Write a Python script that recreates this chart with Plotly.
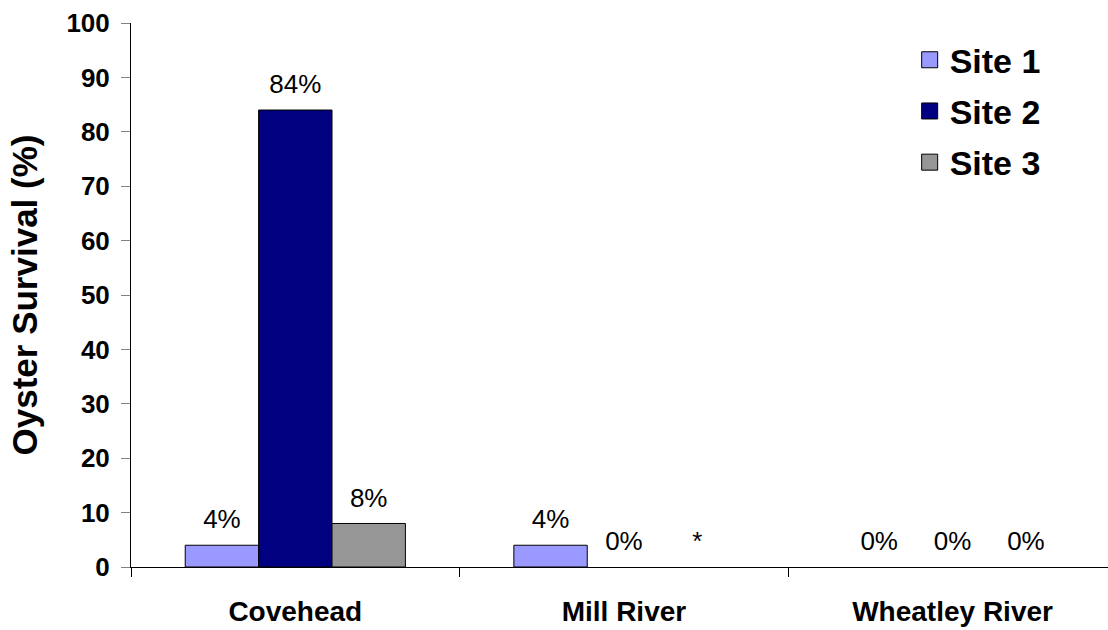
import plotly.graph_objects as go

# Oyster survival by river and site
rivers = ["Covehead", "Mill River", "Wheatley River"]
site_names = ["Site 1", "Site 2", "Site 3"]
site1_values = [4, 4, 0]
site2_values = [84, 0, 0]
site3_values = [8, None, 0]          # no data for Mill River, Site 3
site1_labels = ["4%", "4%", "0%"]
site2_labels = ["84%", "0%", "0%"]
site3_labels = ["8%", "*", "0%"]
y_ticks = [0, 10, 20, 30, 40, 50, 60, 70, 80, 90, 100]

colors = ["#9999FF", "#000080", "#969696"]
FONT = "Liberation Sans, Arial, sans-serif"

series = [
    (site_names[0], site1_values, site1_labels, colors[0]),
    (site_names[1], site2_values, site2_labels, colors[1]),
    (site_names[2], site3_values, site3_labels, colors[2]),
]

fig = go.Figure()

for i, (name, vals, labels, color) in enumerate(series):
    group = str(i)
    # zero-height bars get no outline so the baseline stays a single clean line
    outline = [1 if v else 0 for v in vals]
    fig.add_trace(go.Bar(
        x=rivers, y=vals, name=name, offsetgroup=group,
        marker=dict(color=color, line=dict(color="black", width=outline)),
        showlegend=False, hoverinfo="x+y+name",
    ))
    # value labels sitting above each bar
    fig.add_trace(go.Scatter(
        x=rivers, y=[v if v is not None else 0 for v in vals],
        text=labels, mode="markers+text", textposition="top center",
        marker=dict(size=15, opacity=0), offsetgroup=group,
        textfont=dict(family=FONT, size=26, color="black"),
        showlegend=False, hoverinfo="skip", cliponaxis=False,
    ))

# legend entries
for name, _, _, color in series:
    fig.add_trace(go.Scatter(
        x=[None], y=[None], name=name, mode="markers",
        marker=dict(symbol="square", size=22, color=color,
                    line=dict(color="black", width=1)),
        legendgroup=name,
    ))

fig.update_layout(
    width=1108, height=630,
    margin=dict(l=131, r=0, t=23, b=63),
    paper_bgcolor="white", plot_bgcolor="white",
    barmode="group", bargap=0.33, bargroupgap=0,
    scattermode="group",
    font=dict(family=FONT, color="black"),
    legend=dict(
        x=0.797, y=0.985, xanchor="left", yanchor="top",
        font=dict(family=FONT, size=34, weight="bold"),
        bgcolor="rgba(0,0,0,0)", tracegroupgap=4,
    ),
    xaxis=dict(
        range=[-0.5, 2.473], showline=True, linecolor="black", linewidth=1,
        ticks="outside", tickson="boundaries", ticklen=9, tickcolor="black",
        tickfont=dict(family=FONT, size=28, weight="bold"),
        ticklabelstandoff=19,
        showgrid=False, zeroline=False, fixedrange=True,
    ),
    yaxis=dict(
        range=[0, 100], tickvals=y_ticks, showline=True, linecolor="black",
        linewidth=1, ticks="outside", ticklen=9, tickcolor="#808080",
        tickfont=dict(family=FONT, size=26, weight="bold"),
        ticklabelstandoff=6,
        showgrid=False, zeroline=False, fixedrange=True,
        title=dict(text="Oyster Survival (%)", standoff=18,
                   font=dict(family=FONT, size=35, weight="bold")),
    ),
)

fig.write_html("out.html")
